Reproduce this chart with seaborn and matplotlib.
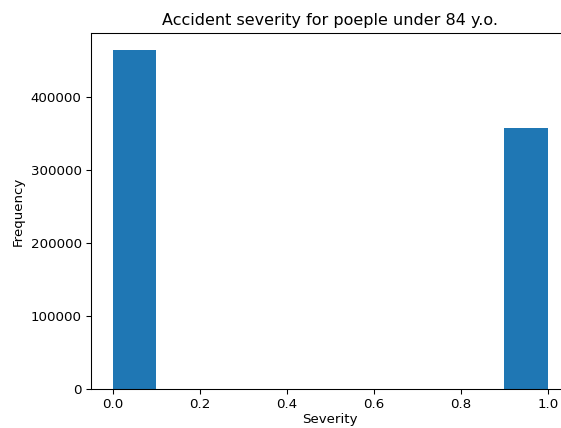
import matplotlib
matplotlib.use("Agg")
import matplotlib.pyplot as plt
import seaborn as sns

# Accident severity (0 = not severe, 1 = severe) and how often each occurs
severity = [0, 1]
frequency = [464000, 357500]

DPI = 96.3
fig = plt.figure(figsize=(561 / DPI, 428 / DPI), dpi=DPI)
ax = fig.add_axes([91 / 561, 39 / 428, 478.5 / 561, 356 / 428])

sns.histplot(x=severity, weights=frequency, bins=10, binrange=(0, 1),
             color="#1f77b4", alpha=1, linewidth=0, edgecolor="none", ax=ax)

ax.set_title("Accident severity for poeple under 84 y.o.")
ax.set_xlabel("Severity", labelpad=1)
ax.set_ylabel("Frequency")
ax.set_yticks([0, 100000, 200000, 300000, 400000])
ax.set_xticks([0.0, 0.2, 0.4, 0.6, 0.8, 1.0])

fig.savefig("out.png", dpi=DPI)
